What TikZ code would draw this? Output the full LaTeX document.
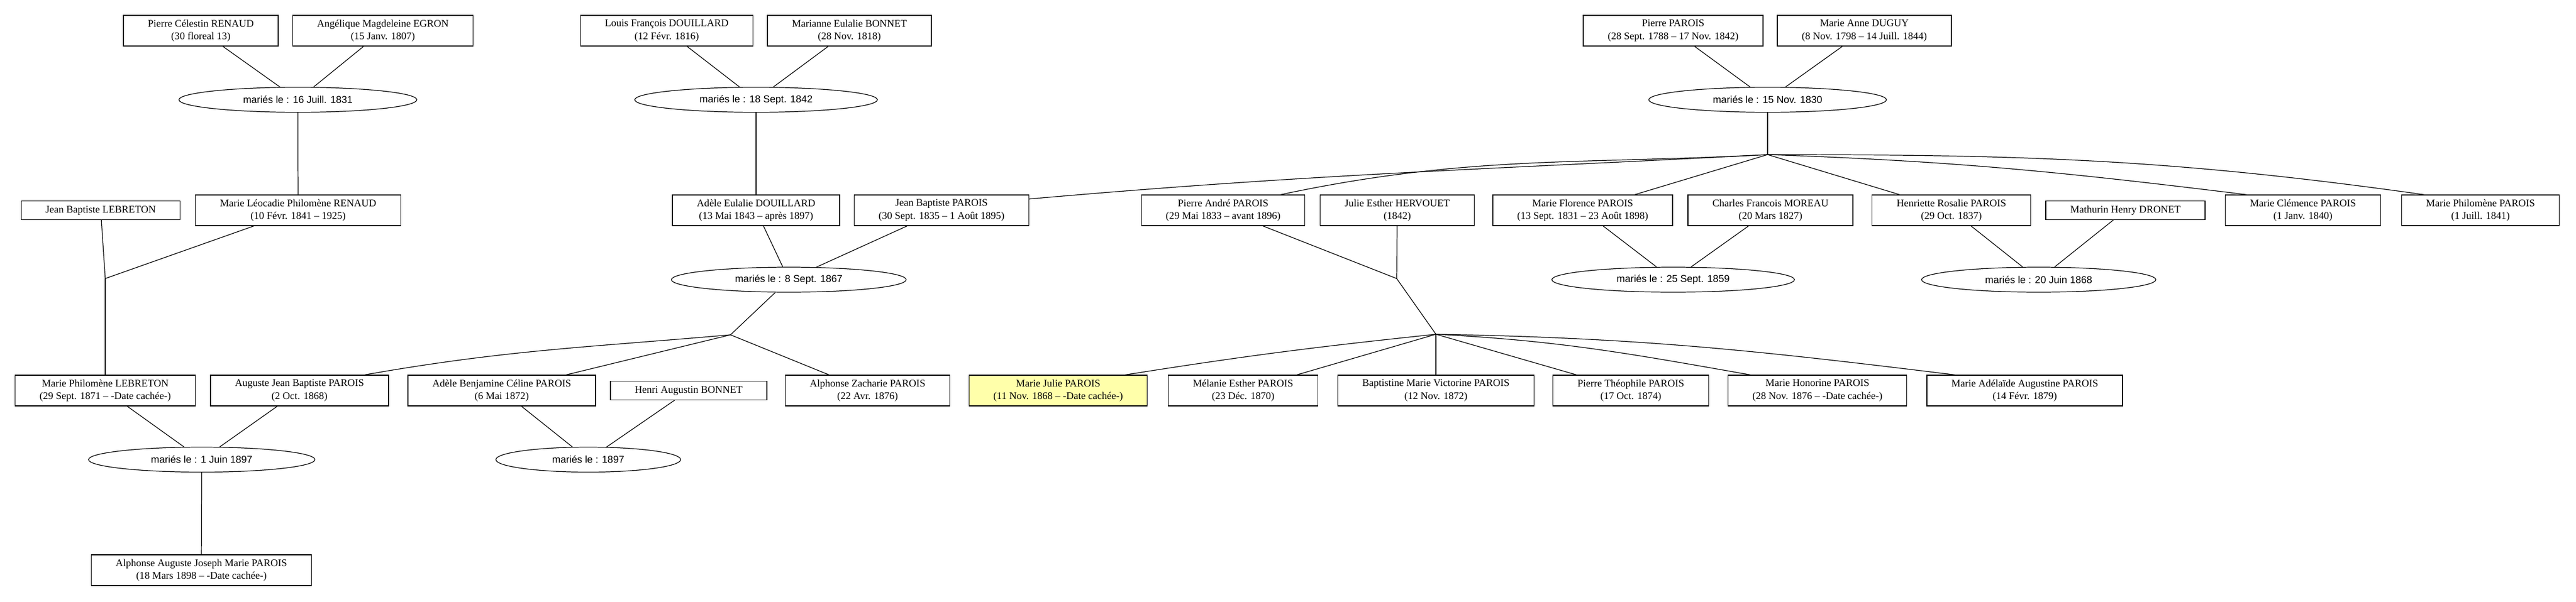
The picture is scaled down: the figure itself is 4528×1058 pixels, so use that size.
\documentclass[tikz,border=0pt]{standalone}
\usepackage{fontspec}
\setmainfont{Liberation Serif}
\newfontfamily\mariagefont{Liberation Sans}
\usetikzlibrary{shapes.geometric}
\definecolor{soi}{HTML}{FFFFAA}
\tikzset{
  person/.style={draw, rectangle, align=center, line width=0.7pt, inner xsep=0.86cm,
    inner ysep=0pt, minimum height=1.08cm, font=\fontsize{10.25}{12.7}\selectfont},
  personone/.style={person, minimum height=0.65cm},
  mariage/.style={draw, ellipse, line width=0.7pt, inner xsep=1.03cm, inner ysep=0pt,
    minimum height=0.88cm, font=\mariagefont\fontsize{10}{12}\selectfont},
  lien/.style={line width=0.7pt}
}
\begin{document}
\begin{tikzpicture}[x=0.02cm, y=0.02cm]
    \useasboundingbox[fill=white] (0,0) rectangle (4528,-1058);

    \node[person] (pcrenaud) at (353,-54) {Pierre Célestin RENAUD\\(30 floreal 13)};
    \node[person] (amegron) at (673,-54) {Angélique Magdeleine EGRON\\(15 Janv. 1807)};
    \node[person] (lfdouillard) at (1172,-54) {Louis François DOUILLARD\\(12 Févr. 1816)};
    \node[person] (mebonnet) at (1493,-54) {Marianne Eulalie BONNET\\(28 Nov. 1818)};
    \node[person] (pparois) at (2941,-54) {Pierre PAROIS\\(28 Sept. 1788 – 17 Nov. 1842)};
    \node[person] (maduguy) at (3277,-54) {Marie Anne DUGUY\\(8 Nov. 1798 – 14 Juill. 1844)};

    \node[mariage] (m1831) at (523.6,-175.5) {mariés le : 16 Juill. 1831};
    \node[mariage] (m1842) at (1329,-175.5) {mariés le : 18 Sept. 1842};
    \node[mariage] (m1830) at (3107,-175.5) {mariés le : 15 Nov. 1830};
    \coordinate (j1830) at (3107,-272);

    \node[personone] (jblebreton) at (177,-370) {Jean Baptiste LEBRETON};
    \node[person] (mlrenaud) at (524,-370) {Marie Léocadie Philomène RENAUD\\(10 Févr. 1841 – 1925)};
    \node[person] (aedouillard) at (1329,-370) {Adèle Eulalie DOUILLARD\\(13 Mai 1843 – après 1897)};
    \node[person] (jbparois) at (1655,-370) {Jean Baptiste PAROIS\\(30 Sept. 1835 – 1 Août 1895)};
    \node[person] (paparois) at (2150,-370) {Pierre André PAROIS\\(29 Mai 1833 – avant 1896)};
    \node[person] (jehervouet) at (2456,-370) {Julie Esther HERVOUET\\(1842)};
    \node[person] (mfparois) at (2782,-370) {Marie Florence PAROIS\\(13 Sept. 1831 – 23 Août 1898)};
    \node[person] (cfmoreau) at (3112,-370) {Charles Francois MOREAU\\(20 Mars 1827)};
    \node[person] (hrparois) at (3430,-370) {Henriette Rosalie PAROIS\\(29 Oct. 1837)};
    \node[personone] (mhdronet) at (3736,-370) {Mathurin Henry DRONET};
    \node[person] (mcparois) at (4048,-370) {Marie Clémence PAROIS\\(1 Janv. 1840)};
    \node[person] (mpparois) at (4360,-370) {Marie Philomène PAROIS\\(1 Juill. 1841)};

    \node[mariage] (m1867) at (1386.5,-492) {mariés le : 8 Sept. 1867};
    \node[mariage] (m1859) at (2941,-492) {mariés le : 25 Sept. 1859};
    \node[mariage] (m1868) at (3583.5,-492) {mariés le : 20 Juin 1868};
    \coordinate (j1) at (185,-490);
    \coordinate (j4) at (2455,-490);
    \coordinate (j2) at (1284,-589);
    \coordinate (j5) at (2524,-588);

    \node[person] (mplebreton) at (185,-687) {Marie Philomène LEBRETON\\(29 Sept. 1871 – -Date cachée-)};
    \node[person] (ajbparois) at (526.5,-687) {Auguste Jean Baptiste PAROIS\\(2 Oct. 1868)};
    \node[person] (abcparois) at (882,-687) {Adèle Benjamine Céline PAROIS\\(6 Mai 1872)};
    \node[personone] (habonnet) at (1210.5,-687) {Henri Augustin BONNET};
    \node[person] (azparois) at (1525,-687) {Alphonse Zacharie PAROIS\\(22 Avr. 1876)};
    \node[person, fill=soi] (mjparois) at (1860,-687) {Marie Julie PAROIS\\(11 Nov. 1868 – -Date cachée-)};
    \node[person] (meparois) at (2185,-687) {Mélanie Esther PAROIS\\(23 Déc. 1870)};
    \node[person] (bmvparois) at (2524,-687) {Baptistine Marie Victorine PAROIS\\(12 Nov. 1872)};
    \node[person] (ptparois) at (2866.5,-687) {Pierre Théophile PAROIS\\(17 Oct. 1874)};
    \node[person] (mhparois) at (3194.6,-687) {Marie Honorine PAROIS\\(28 Nov. 1876 – -Date cachée-)};
    \node[person] (maaparois) at (3559,-687) {Marie Adélaïde Augustine PAROIS\\(14 Févr. 1879)};

    \node[mariage] (m1897a) at (354.6,-808.5) {mariés le : 1 Juin 1897};
    \node[mariage] (m1897b) at (1034,-808.5) {mariés le : 1897};

    \node[person] (aajmparois) at (354,-1003) {Alphonse Auguste Joseph Marie PAROIS\\(18 Mars 1898 – -Date cachée-)};

    \draw[lien] (pcrenaud) -- (m1831);
    \draw[lien] (amegron) -- (m1831);
    \draw[lien] (m1831) -- (mlrenaud);
    \draw[lien] (lfdouillard) -- (m1842);
    \draw[lien] (mebonnet) -- (m1842);
    \draw[lien] (m1842) -- (aedouillard);
    \draw[lien] (pparois) -- (m1830);
    \draw[lien] (maduguy) -- (m1830);
    \draw[lien] (m1830) -- (j1830);

    \draw[lien] (j1830) to[out=183, in=5] ([yshift=0.4cm]jbparois.east);
    \draw[lien] (j1830) to[out=183, in=12] ([xshift=2.02cm]paparois.north);
    \draw[lien] (j1830) -- (mfparois);
    \draw[lien] (j1830) -- (hrparois);
    \draw[lien] (j1830) to[out=358, in=173] ([xshift=-1.98cm]mcparois.north);
    \draw[lien] (j1830) to[out=0, in=172] ([xshift=-1.98cm]mpparois.north);

    \draw[lien] (jblebreton) -- (j1);
    \draw[lien] (mlrenaud) -- (j1);
    \draw[lien] (j1) -- (mplebreton);

    \draw[lien] (aedouillard) -- (m1867);
    \draw[lien] (jbparois) -- (m1867);
    \draw[lien] (m1867) -- (j2);
    \draw[lien] (j2) to[out=185, in=10] ([xshift=2.29cm]ajbparois.north);
    \draw[lien] (j2) -- (abcparois);
    \draw[lien] (j2) -- (azparois);

    \draw[lien] (paparois) -- (j4);
    \draw[lien] (jehervouet) -- (j4);
    \draw[lien] (j4) -- (j5);
    \draw[lien] (j5) to[out=186, in=9] ([xshift=2.36cm]mjparois.north);
    \draw[lien] (j5) -- (meparois);
    \draw[lien] (j5) -- (bmvparois);
    \draw[lien] (j5) -- (ptparois);
    \draw[lien] (j5) to[out=357, in=170] ([xshift=-2.36cm]mhparois.north);
    \draw[lien] (j5) to[out=359, in=173] ([xshift=-2.46cm]maaparois.north);

    \draw[lien] (mfparois) -- (m1859);
    \draw[lien] (cfmoreau) -- (m1859);
    \draw[lien] (hrparois) -- (m1868);
    \draw[lien] (mhdronet) -- (m1868);

    \draw[lien] (mplebreton) -- (m1897a);
    \draw[lien] (ajbparois) -- (m1897a);
    \draw[lien] (m1897a) -- (aajmparois);
    \draw[lien] (abcparois) -- (m1897b);
    \draw[lien] (habonnet) -- (m1897b);
  \end{tikzpicture}
\end{document}
